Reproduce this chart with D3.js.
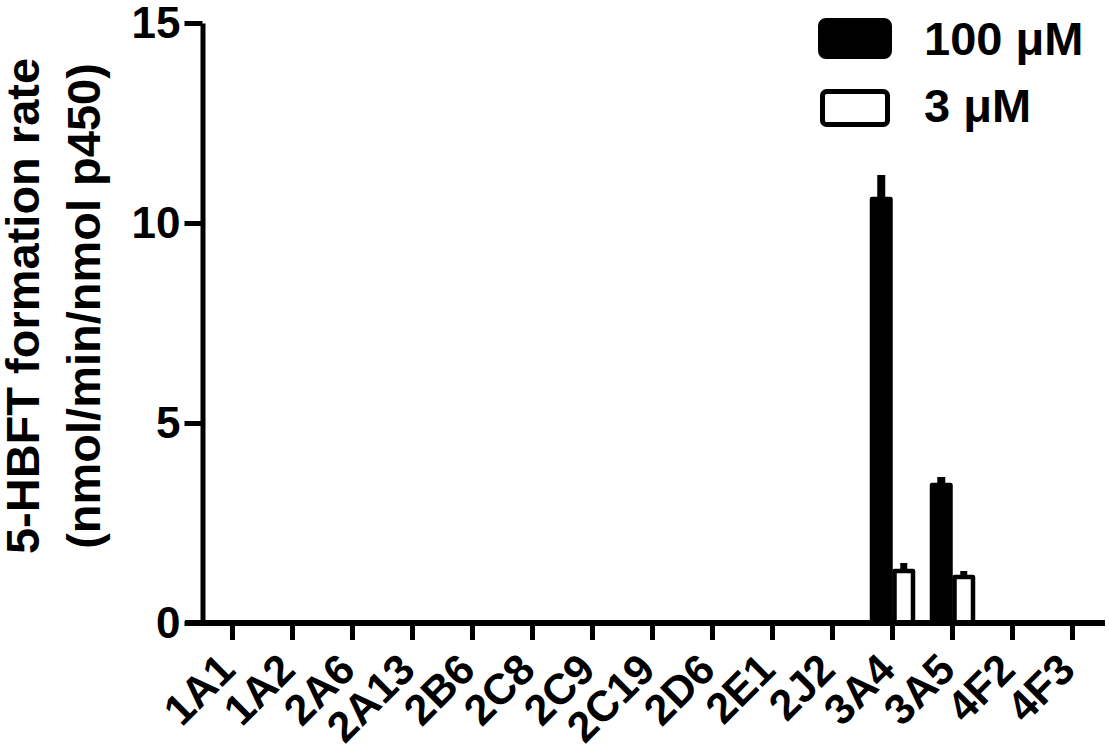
<!DOCTYPE html>
<html>
<head>
<meta charset="utf-8">
<script src="https://cdn.jsdelivr.net/npm/d3@7"></script>
<style>
  html, body { margin: 0; padding: 0; background: #fff; }
  svg { display: block; }
  text { font-family: "Liberation Sans", Arial, sans-serif; font-weight: bold; fill: #000; }
</style>
</head>
<body>
<svg id="chart" width="1109" height="753"></svg>
<script>
const categories = ["1A1","1A2","2A6","2A13","2B6","2C8","2C9","2C19","2D6","2E1","2J2","3A4","3A5","4F2","4F3"];
const seriesNames = ["100 μM", "3 μM"];
const values100 = [0,0,0,0,0,0,0,0,0,0,0,10.6,3.45,0,0];
const errors100 = [0,0,0,0,0,0,0,0,0,0,0,0.6,0.2,0,0];
const values3 = [0,0,0,0,0,0,0,0,0,0,0,1.3,1.15,0,0];
const errors3 = [0,0,0,0,0,0,0,0,0,0,0,0.2,0.15,0,0];
const yTicks = [0, 5, 10, 15];
const yLabelLines = ["5-HBFT formation rate", "(nmol/min/nmol p450)"];

const svg = d3.select("#chart");
const x0 = 202.5, x1End = 1102.5, yTop = 23, yBot = 623;

const x = d3.scaleBand().domain(categories).range([x0, x1End]).padding(0);
const xs = d3.scaleBand().domain(seriesNames).range([7.5, x.bandwidth() - 7.5]).padding(0);
const y = d3.scaleLinear().domain([0, 15]).range([yBot, yTop]);

const rows = categories.map((c, i) => ({
  cat: c,
  items: [
    {s: seriesNames[0], v: values100[i], e: errors100[i], fill: "#000"},
    {s: seriesNames[1], v: values3[i], e: errors3[i], fill: "#fff"}
  ]
}));

const g = svg.append("g");
rows.forEach(r => {
  r.items.forEach(it => {
    if (it.v <= 0) return;
    const cx = x(r.cat) + xs(it.s) + xs.bandwidth() / 2;
    g.append("line")
      .attr("x1", cx).attr("x2", cx)
      .attr("y1", y(it.v)).attr("y2", y(it.v + it.e))
      .attr("stroke", "#000").attr("stroke-width", it.fill === "#000" ? 8 : 7);
  });
});

rows.forEach(r => {
  r.items.forEach(it => {
    if (it.v <= 0) return;
    const bx = x(r.cat) + xs(it.s);
    g.append("rect")
      .attr("x", bx + 2).attr("y", y(it.v))
      .attr("width", xs.bandwidth() - 4)
      .attr("height", y(0) - y(it.v))
      .attr("fill", it.fill)
      .attr("stroke", "#000").attr("stroke-width", 4.5)
      .attr("stroke-linejoin", "round");
  });
});

// Y axis
const yAxis = d3.axisLeft(y).tickValues(yTicks).tickSize(18).tickSizeOuter(0).tickPadding(4);
const gy = svg.append("g").attr("transform", `translate(${x0},0)`).call(yAxis);
gy.select(".domain").attr("stroke", "#000").attr("stroke-width", 5);
gy.selectAll(".tick line").attr("stroke", "#000").attr("stroke-width", 5);
gy.selectAll(".tick text").style("font-size", "44px").style("font-family", "Liberation Sans, Arial, sans-serif").style("font-weight", "bold").attr("fill", "#000");

// X axis
const xAxis = d3.axisBottom(x).tickSize(17).tickSizeOuter(0).tickFormat("");
const gx = svg.append("g").attr("transform", `translate(0,${yBot})`).call(xAxis);
gx.select(".domain").remove();
gx.selectAll(".tick line").attr("stroke", "#000").attr("stroke-width", 5);
gx.append("line").attr("x1", 185).attr("x2", 1105).attr("y1", 0).attr("y2", 0)
  .attr("stroke", "#000").attr("stroke-width", 6);

// x labels rotated
svg.append("g").selectAll("text").data(categories).join("text")
  .attr("transform", d => `translate(${x(d) + x.bandwidth() / 2 + 5},${672}) rotate(-45)`)
  .attr("text-anchor", "end")
  .style("font-size", "43px")
  .text(d => d);

// Y label
const yl = svg.append("text")
  .attr("transform", `translate(0,306) rotate(-90)`)
  .attr("text-anchor", "middle")
  .style("font-size", "47px");
yl.append("tspan").attr("x", 0).attr("y", 39).text(yLabelLines[0]);
yl.append("tspan").attr("x", 0).attr("y", 100).text(yLabelLines[1]);

// Legend
const leg = svg.append("g");
leg.append("rect").attr("x", 820).attr("y", 20).attr("width", 70).attr("height", 37)
  .attr("rx", 6).attr("fill", "#000").attr("stroke", "#000").attr("stroke-width", 4);
leg.append("rect").attr("x", 822.5).attr("y", 91.5).attr("width", 65).attr("height", 33)
  .attr("rx", 4).attr("fill", "#fff").attr("stroke", "#000").attr("stroke-width", 5);
leg.append("text").attr("x", 924).attr("y", 55).style("font-size", "47px").text(seriesNames[0]);
leg.append("text").attr("x", 924).attr("y", 122).style("font-size", "47px").text(seriesNames[1]);
</script>
</body>
</html>
